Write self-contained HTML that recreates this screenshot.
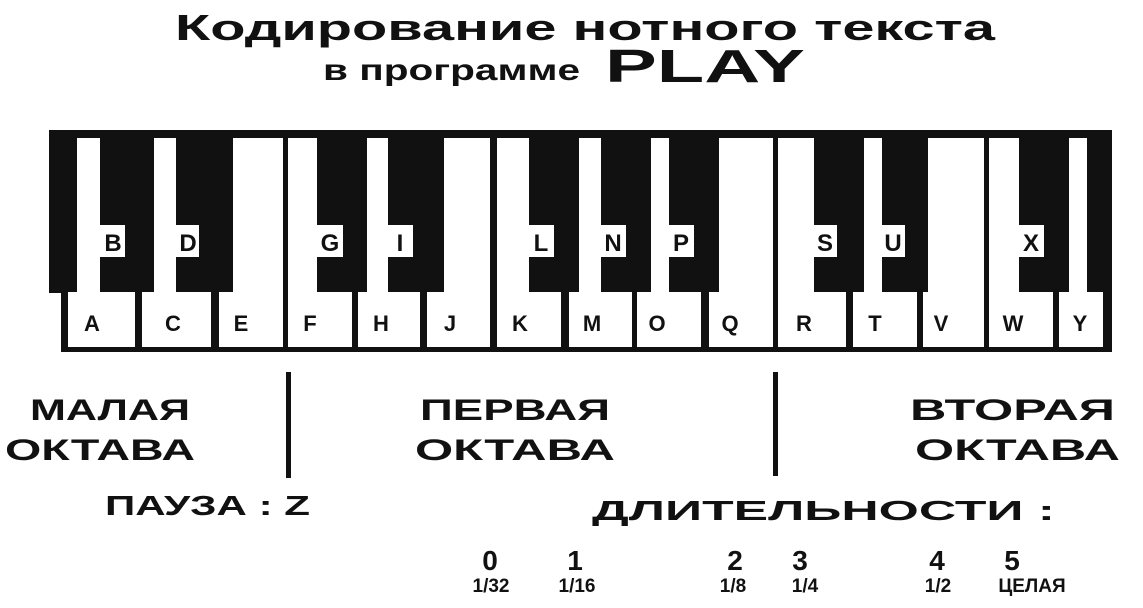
<!DOCTYPE html>
<html><head><meta charset="utf-8"><style>
html,body{margin:0;padding:0;background:#fff;}
svg{display:block}
text{font-family:"Liberation Sans","DejaVu Sans",sans-serif;font-weight:bold;fill:#111;}
</style></head><body>
<svg width="1143" height="608" viewBox="0 0 1143 608" xmlns="http://www.w3.org/2000/svg">
<!-- title -->
<text x="175" y="40" font-size="36" textLength="820" lengthAdjust="spacingAndGlyphs">Кодирование  нотного текста</text>
<text x="323" y="80" font-size="30" textLength="257" lengthAdjust="spacingAndGlyphs">в программе</text>
<text x="605" y="82" font-size="46" font-weight="normal" textLength="200" lengthAdjust="spacingAndGlyphs">PLAY</text>

<!-- keyboard -->
<rect x="49" y="130" width="1063" height="163" fill="#111"/>
<rect x="61" y="288" width="1051" height="64" fill="#111"/>
<g fill="#fff">
<rect x="77" y="138" width="23" height="158"/>
<rect x="154" y="138" width="22" height="158"/>
<rect x="233" y="138" width="50" height="158"/>
<rect x="288" y="138" width="29" height="158"/>
<rect x="367" y="138" width="21" height="158"/>
<rect x="444" y="138" width="46" height="158"/>
<rect x="497" y="138" width="32" height="158"/>
<rect x="579" y="138" width="22" height="158"/>
<rect x="651" y="138" width="18" height="158"/>
<rect x="719" y="138" width="54" height="158"/>
<rect x="778" y="138" width="36" height="158"/>
<rect x="864" y="138" width="18" height="158"/>
<rect x="928" y="138" width="56" height="158"/>
<rect x="989" y="138" width="30" height="158"/>
<rect x="1069" y="138" width="18" height="158"/>
<!-- white key bottoms -->
<rect x="68" y="292" width="67" height="55"/>
<rect x="142" y="292" width="69" height="55"/>
<rect x="219" y="292" width="64" height="55"/>
<rect x="288" y="292" width="64" height="55"/>
<rect x="358" y="292" width="62" height="55"/>
<rect x="427" y="292" width="63" height="55"/>
<rect x="497" y="292" width="64" height="55"/>
<rect x="569" y="292" width="63" height="55"/>
<rect x="637" y="292" width="64" height="55"/>
<rect x="709" y="292" width="64" height="55"/>
<rect x="778" y="292" width="68" height="55"/>
<rect x="853" y="292" width="64" height="55"/>
<rect x="923" y="292" width="61" height="55"/>
<rect x="989" y="292" width="64" height="55"/>
<rect x="1059" y="292" width="44" height="55"/>
<!-- label boxes -->
<rect x="100" y="225" width="25" height="32"/>
<rect x="176" y="225" width="23" height="32"/>
<rect x="317" y="225" width="26" height="32"/>
<rect x="388" y="225" width="25" height="32"/>
<rect x="529" y="225" width="25" height="32"/>
<rect x="601" y="225" width="25" height="32"/>
<rect x="669" y="225" width="25" height="32"/>
<rect x="814" y="225" width="23" height="32"/>
<rect x="882" y="225" width="23" height="32"/>
<rect x="1019" y="225" width="25" height="32"/>
</g>
<g font-size="24" text-anchor="middle">
<text x="113" y="251">B</text><text x="188" y="251">D</text><text x="330" y="251">G</text>
<text x="400" y="251">I</text><text x="541" y="251">L</text><text x="613" y="251">N</text>
<text x="681" y="251">P</text><text x="825" y="251">S</text><text x="893" y="251">U</text>
<text x="1031" y="251">X</text>
</g>
<g font-size="22" text-anchor="middle">
<text x="92" y="331">A</text><text x="173" y="331">C</text><text x="241" y="331">E</text>
<text x="310" y="331">F</text><text x="381" y="331">H</text><text x="450" y="331">J</text>
<text x="520" y="331">K</text><text x="592" y="331">M</text><text x="657" y="331">O</text>
<text x="730" y="331">Q</text><text x="804" y="331">R</text><text x="875" y="331">T</text>
<text x="941" y="331">V</text><text x="1013" y="331">W</text><text x="1080" y="331">Y</text>
</g>

<!-- dividers -->
<rect x="286" y="372" width="5" height="106" fill="#111"/>
<rect x="773" y="372" width="5" height="104" fill="#111"/>

<g font-size="30">
<text x="30" y="420" textLength="160" lengthAdjust="spacingAndGlyphs">МАЛАЯ</text>
<text x="5" y="460" textLength="190" lengthAdjust="spacingAndGlyphs">ОКТАВА</text>
<text x="420" y="420" textLength="190" lengthAdjust="spacingAndGlyphs">ПЕРВАЯ</text>
<text x="415" y="460" textLength="200" lengthAdjust="spacingAndGlyphs">ОКТАВА</text>
<text x="910" y="420" textLength="205" lengthAdjust="spacingAndGlyphs">ВТОРАЯ</text>
<text x="915" y="460" textLength="205" lengthAdjust="spacingAndGlyphs">ОКТАВА</text>
</g>
<g font-size="28">
<text x="105" y="515" textLength="205" lengthAdjust="spacingAndGlyphs">ПАУЗА : Z</text>
<text x="592" y="520" textLength="463" lengthAdjust="spacingAndGlyphs">ДЛИТЕЛЬНОСТИ :</text>
</g>
<g font-size="28" text-anchor="middle">
<text x="490" y="570">0</text><text x="575" y="570">1</text><text x="735" y="570">2</text>
<text x="800" y="570">3</text><text x="937" y="570">4</text><text x="1012" y="570">5</text>
</g>
<g font-size="19" text-anchor="middle">
<text x="491" y="592">1/32</text><text x="577" y="592">1/16</text><text x="733" y="592">1/8</text>
<text x="805" y="592">1/4</text><text x="938" y="592">1/2</text><text x="1032" y="592">ЦЕЛАЯ</text>
</g>
</svg>
</body></html>
